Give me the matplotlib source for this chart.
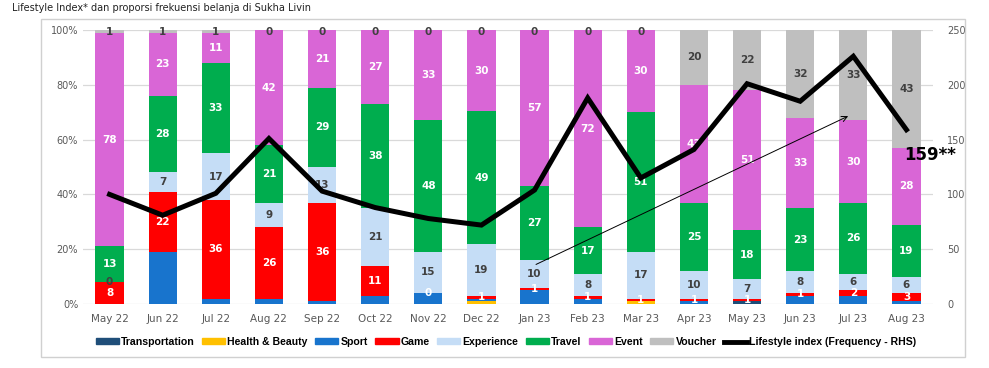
import matplotlib
matplotlib.use("Agg")
import matplotlib.pyplot as plt
import numpy as np
from matplotlib.patches import Rectangle
from matplotlib.lines import Line2D

months = ["May 22", "Jun 22", "Jul 22", "Aug 22", "Sep 22", "Oct 22", "Nov 22", "Dec 22",
          "Jan 23", "Feb 23", "Mar 23", "Apr 23", "May 23", "Jun 23", "Jul 23", "Aug 23"]
transportation = [0, 0, 0, 0, 0, 0, 0, 0, 0, 0, 0, 0, 1, 0, 0, 0]
health_beauty = [0, 0, 0, 0, 0, 0, 0, 1, 0, 0, 1, 0, 0, 0, 0, 0]
sport = [0, 19, 2, 2, 1, 3, 4, 1, 5, 2, 0, 1, 0, 3, 3, 1]
game = [8, 22, 36, 26, 36, 11, 0, 1, 1, 1, 1, 1, 1, 1, 2, 3]
experience = [0, 7, 17, 9, 13, 21, 15, 19, 10, 8, 17, 10, 7, 8, 6, 6]
travel = [13, 28, 33, 21, 29, 38, 48, 49, 27, 17, 51, 25, 18, 23, 26, 19]
event = [78, 23, 11, 42, 21, 27, 33, 30, 57, 72, 30, 43, 51, 33, 30, 28]
voucher = [1, 1, 1, 0, 0, 0, 0, 0, 0, 0, 0, 20, 22, 32, 33, 43]
lifestyle_index = [100, 81, 101, 151, 103, 88, 78, 72, 104, 188, 115, 141, 201, 185, 226, 159]
left_ticks = ["0%", "20%", "40%", "60%", "80%", "100%"]
right_ticks = [0, 50, 100, 150, 200, 250]

series = [
    ("Transportation", transportation, "#1F4E79", None),
    ("Health & Beauty", health_beauty, "#FFC000", None),
    ("Sport", sport, "#1874CD", None),
    ("Game", game, "#FF0000", "white"),
    ("Experience", experience, "#C5DDF6", "#404040"),
    ("Travel", travel, "#00AD4E", "white"),
    ("Event", event, "#D966D6", "white"),
    ("Voucher", voucher, "#BFBFBF", "#404040"),
]

fig = plt.figure(figsize=(9.89, 3.68), dpi=100)
# outer frame
fig.patches.append(Rectangle((41 / 989, 1 - 357 / 368), (965 - 41) / 989, (357 - 19) / 368,
                             transform=fig.transFigure, fill=False, edgecolor="#D0D0D0", lw=1))
fig.text(12 / 989, 1 - 8 / 368, "Lifestyle Index* dan proporsi frekuensi belanja di Sukha Livin",
         fontsize=7, color="#222222", va="center", ha="left")

ax = fig.add_axes([83 / 989, 1 - 304 / 368, 850 / 989, 274 / 368])
x = np.arange(len(months))
totals = np.sum([np.array(s[1], dtype=float) for s in series], axis=0)
bottom = np.zeros(len(months))
width = 0.53
for name, vals, color, lblcolor in series:
    v = np.array(vals, dtype=float) / totals * 100
    ax.bar(x, v, width, bottom=bottom, color=color, label=name, zorder=2)
    if lblcolor is not None:
        for i in range(len(months)):
            yc = bottom[i] + v[i] / 2
            if yc > 99:
                yc = 99.2
            ax.text(x[i], yc, str(vals[i]), ha="center", va="center", fontsize=7.5,
                    fontweight="bold", color=lblcolor, zorder=4)
    bottom += v

ax.set_xlim(-0.5, len(months) - 0.5)
ax.set_ylim(0, 100)
ax.set_yticks([0, 20, 40, 60, 80, 100])
ax.set_yticklabels(left_ticks)
ax.set_xticks(x)
ax.set_xticklabels(months)
ax.tick_params(axis="both", length=0, labelsize=7, colors="#595959")
ax.tick_params(axis="x", labelsize=7.5, pad=7)
ax.grid(axis="y", color="#D9D9D9", lw=0.9, zorder=0)
for sp in ax.spines.values():
    sp.set_visible(False)

ax2 = ax.twinx()
ax2.plot(x, lifestyle_index, color="black", lw=3.6, zorder=5, solid_joinstyle="miter")
ax2.set_ylim(0, 250)
ax2.set_yticks(right_ticks)
ax2.tick_params(axis="y", length=0, labelsize=7, colors="#595959", pad=10)
for sp in ax2.spines.values():
    sp.set_visible(False)

ax.annotate("", xy=(13.95, 69), xytext=(7.98, 14),
            arrowprops=dict(arrowstyle="->", color="black", lw=0.7), zorder=6)
ax2.text(14.95, 136, "159**", fontsize=12, fontweight="bold", ha="left", va="center",
         color="black", zorder=7)

handles = [Rectangle((0, 0), 1, 1, color=s[2]) for s in series]
labels = [s[0] for s in series]
handles.append(Line2D([0], [0], color="black", lw=3.5))
labels.append("Lifestyle index (Frequency - RHS)")
fig.legend(handles, labels, loc="center", bbox_to_anchor=(506 / 989, 1 - 342 / 368), ncol=9,
           frameon=False, handlelength=2.2, handleheight=0.5, handletextpad=0.2,
           columnspacing=0.7, prop={"family": ["Liberation Sans", "DejaVu Sans"],
                                    "weight": "bold", "size": 7.6})

fig.savefig("out.png", dpi=100)
